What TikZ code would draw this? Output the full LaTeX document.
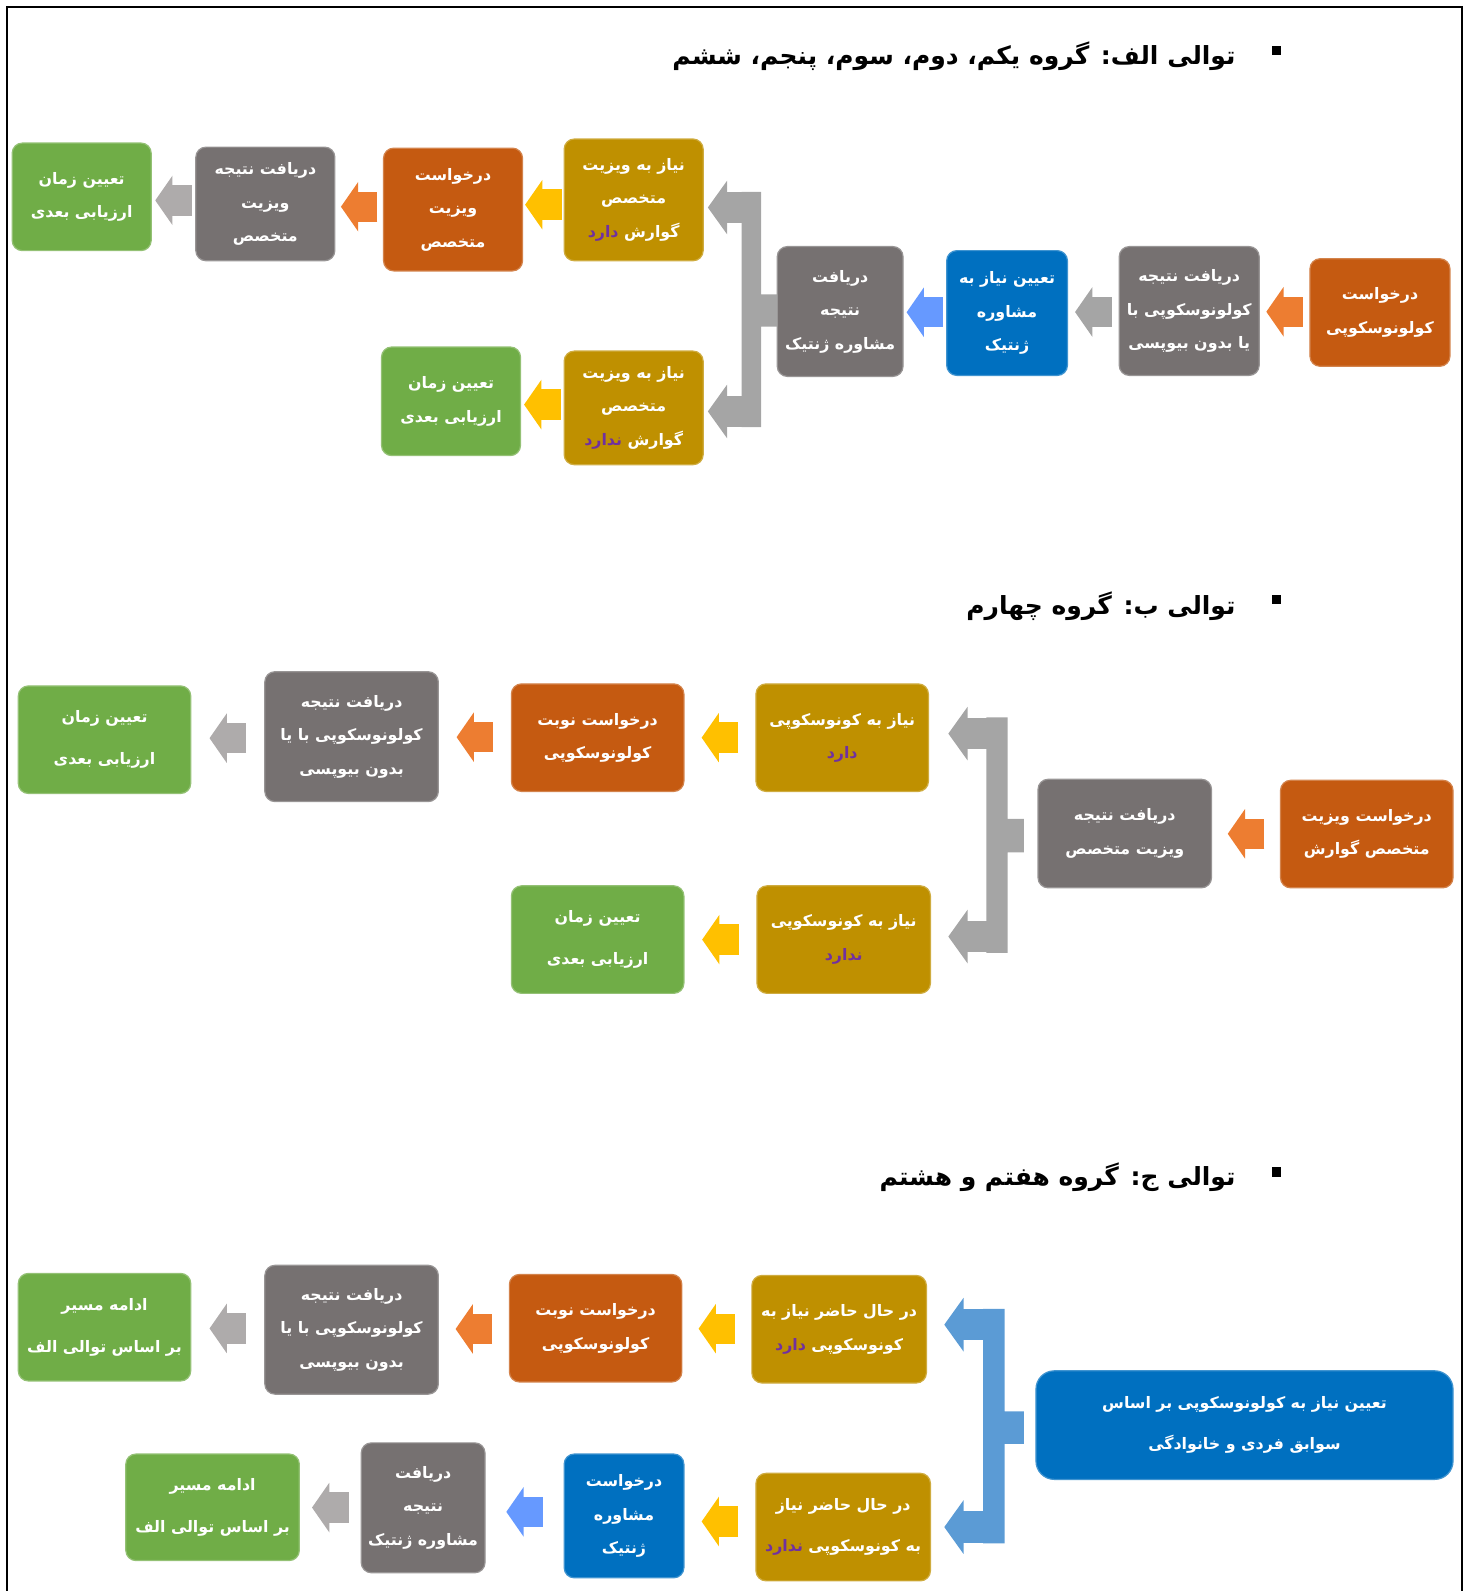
\documentclass[tikz,border=0pt]{standalone}
\usepackage{fontspec}
\usetikzlibrary{calc,arrows.meta}
\TeXXeTstate=1
\newfontfamily\fafont[Script=Arabic]{DejaVu Sans}
\newcommand\fa[1]{\beginR #1\endR}
\newcommand\hasit[1]{\textcolor{cpurple}{\fa{#1}}}
\definecolor{cgreen}{HTML}{70AD47}
\definecolor{cgray}{HTML}{767171}
\definecolor{corange}{HTML}{C55A11}
\definecolor{cgold}{HTML}{BF9000}
\definecolor{cblue}{HTML}{0070C0}
\definecolor{cpurple}{HTML}{7030A0}
\definecolor{aorange}{HTML}{ED7D31}
\definecolor{ayellow}{HTML}{FFC000}
\definecolor{agray}{HTML}{AEABAB}
\definecolor{ablue}{HTML}{6699FF}
\definecolor{brgray}{HTML}{A5A5A5}
\definecolor{brblue}{HTML}{5B9BD5}
\tikzset{
  stepbox/.style={fill=#1, draw=#1!75!white, line width=0.6pt, rounded corners=5pt,
    text=white, align=center, inner sep=0pt,
    font=\fafont\bfseries\fontsize{7.8}{16.5}\selectfont},
  loose/.style={font=\fafont\bfseries\fontsize{7.8}{20.5}\selectfont},
  sz/.style 2 args={minimum width=#1*0.5pt, minimum height=#2*0.5pt},
  flow/.style={draw=#1, line width=15pt, -{Triangle[length=8.5pt,width=24pt]}},
  fork/.style={draw=#1, line width=15.5pt, -{Triangle[length=9.5pt,width=26pt]}},
  grouptitle/.style={font=\fafont\bfseries\fontsize{12.3}{16}\selectfont, inner sep=0pt, anchor=east},
  bullet/.style={fill=black, inner sep=0pt, minimum size=4.5pt},
}
\begin{document}
\begin{tikzpicture}[x=0.5pt,y=-0.5pt]
    \useasboundingbox (0,0) rectangle (1451,1568);
    \draw [line width=1pt] (7,1568) -- (7,7) -- (1441,7) -- (1441,1568);
    % ------ توالی الف -----------------
    \node [bullet] (pA) at (1258,50) {};
    \node [grouptitle] (tA) at (1218,55) {\fa{توالی الف: گروه یکم، دوم، سوم، پنجم، ششم}};
    \node [stepbox=corange, sz={138}{106}] (a10) at (1360,308) {\fa{درخواست}\\\fa{کولونوسکوپی}};
    \node [stepbox=cgray, sz={138}{127}] (a9) at (1172,306.5) {\fa{دریافت نتیجه}\\\fa{کولونوسکوپی با}\\\fa{یا بدون بیوپسی}};
    \node [stepbox=cblue, sz={119}{123}] (a8) at (992.5,308.5) {\fa{تعیین نیاز به}\\\fa{مشاوره}\\\fa{ژنتیک}};
    \node [stepbox=cgray, sz={124}{128}] (a7) at (828,307) {\fa{دریافت}\\\fa{نتیجه}\\\fa{مشاوره ژنتیک}};
    \node [stepbox=cgold, sz={137}{120}] (a4) at (624.5,197) {\fa{نیاز به ویزیت}\\\fa{متخصص}\\\hasit{دارد}\ \fa{گوارش}};
    \node [stepbox=cgold, sz={137}{112}] (a5) at (624.5,402) {\fa{نیاز به ویزیت}\\\fa{متخصص}\\\hasit{ندارد}\ \fa{گوارش}};
    \node [stepbox=corange, sz={137}{121}] (a3) at (446.5,206.5) {\fa{درخواست}\\\fa{ویزیت}\\\fa{متخصص}};
    \node [stepbox=cgray, sz={137}{112}] (a2) at (261.5,201) {\fa{دریافت نتیجه}\\\fa{ویزیت}\\\fa{متخصص}};
    \node [stepbox=cgreen, sz={137}{106}] (a1) at (80.5,194) {\fa{تعیین زمان}\\\fa{ارزیابی بعدی}};
    \node [stepbox=cgreen, sz={137}{107}] (a6) at (444.5,395.5) {\fa{تعیین زمان}\\\fa{ارزیابی بعدی}};
    \draw [flow=aorange] ($(a10.west)!.5!(a9.east)+(18,0)$) -- ($(a10.west)!.5!(a9.east)-(18,0)$);
    \draw [flow=brgray] ($(a9.west)!.5!(a8.east)+(18,0)$) -- ($(a9.west)!.5!(a8.east)-(18,0)$);
    \draw [flow=ablue] ($(a8.west)!.5!(a7.east)+(18,0)$) -- ($(a8.west)!.5!(a7.east)-(18,0)$);
    \fill [brgray] (731,189) rectangle (750,421) (750,290) rectangle (766,322);
    \coordinate (jAt) at (740,204.5);
    \coordinate (jAb) at (740,405.5);
    \draw [fork=brgray] (jAt) -- ($(a4.east |- jAt)+(4,0)$);
    \draw [fork=brgray] (jAb) -- ($(a5.east |- jAb)+(4,0)$);
    \draw [flow=ayellow] ($(a4.west)!.5!(a3.east)+(18,0)$) -- ($(a4.west)!.5!(a3.east)-(18,0)$);
    \draw [flow=aorange] ($(a3.west)!.5!(a2.east)+(18,0)$) -- ($(a3.west)!.5!(a2.east)-(18,0)$);
    \draw [flow=agray] ($(a2.west)!.5!(a1.east)+(18,0)$) -- ($(a2.west)!.5!(a1.east)-(18,0)$);
    \draw [flow=ayellow] ($(a5.west)!.5!(a6.east)+(18,0)$) -- ($(a5.west)!.5!(a6.east)-(18,0)$);
    % ------ توالی ب -----------------
    \node [bullet] (pB) at (1258,591) {};
    \node [grouptitle] (tB) at (1218,597) {\fa{توالی ب: گروه چهارم}};
    \node [stepbox=corange, sz={170}{106}] (b1) at (1347,822) {\fa{درخواست ویزیت}\\\fa{متخصص گوارش}};
    \node [stepbox=cgray, sz={171}{107}] (b2) at (1108.5,821.5) {\fa{دریافت نتیجه}\\\fa{ویزیت متخصص}};
    \node [stepbox=cgold, sz={170}{106}] (b3) at (830,727) {\fa{نیاز به کونوسکوپی}\\\hasit{دارد}};
    \node [stepbox=cgold, sz={171}{106}] (b4) at (831.5,926) {\fa{نیاز به کونوسکوپی}\\\hasit{ندارد}};
    \node [stepbox=corange, sz={170}{106}] (b5) at (589,727) {\fa{درخواست نوبت}\\\fa{کولونوسکوپی}};
    \node [stepbox=cgreen, sz={170}{106}, loose] (b6) at (589,926) {\fa{تعیین زمان}\\\fa{ارزیابی بعدی}};
    \node [stepbox=cgray, sz={171}{128}] (b7) at (346.5,726) {\fa{دریافت نتیجه}\\\fa{کولونوسکوپی با یا}\\\fa{بدون بیوپسی}};
    \node [stepbox=cgreen, sz={170}{106}, loose] (b8) at (103,729) {\fa{تعیین زمان}\\\fa{ارزیابی بعدی}};
    \draw [flow=aorange] ($(b1.west)!.5!(b2.east)+(18,0)$) -- ($(b1.west)!.5!(b2.east)-(18,0)$);
    \fill [brgray] (972,707) rectangle (993,939) (993,807) rectangle (1009,840);
    \coordinate (jBt) at (982,723);
    \coordinate (jBb) at (982,923);
    \draw [fork=brgray] (jBt) -- ($(b3.east |- jBt)+(19,0)$);
    \draw [fork=brgray] (jBb) -- ($(b4.east |- jBb)+(17,0)$);
    \draw [flow=ayellow] ($(b3.west)!.5!(b5.east)+(18,0)$) -- ($(b3.west)!.5!(b5.east)-(18,0)$);
    \draw [flow=ayellow] ($(b4.west)!.5!(b6.east)+(18,0)$) -- ($(b4.west)!.5!(b6.east)-(18,0)$);
    \draw [flow=aorange] ($(b5.west)!.5!(b7.east)+(18,0)$) -- ($(b5.west)!.5!(b7.east)-(18,0)$);
    \draw [flow=agray] ($(b7.west)!.5!(b8.east)+(18,0)$) -- ($(b7.west)!.5!(b8.east)-(18,0)$);
    % ------ توالی ج -----------------
    \node [bullet] (pC) at (1258,1155) {};
    \node [grouptitle] (tC) at (1218,1160) {\fa{توالی ج: گروه هفتم و هشتم}};
    \node [stepbox=cblue, sz={411}{107}, rounded corners=9pt, loose] (c1) at (1226.5,1404.5) {\fa{تعیین نیاز به کولونوسکوپی بر اساس}\\\fa{سوابق فردی و خانوادگی}};
    \node [stepbox=cgold, sz={172}{106}] (c2) at (827,1310) {\fa{در حال حاضر نیاز به}\\\hasit{دارد}\ \fa{کونوسکوپی}};
    \node [stepbox=cgold, sz={172}{106}, loose] (c3) at (831,1505) {\fa{در حال حاضر نیاز}\\\hasit{ندارد}\ \fa{به کونوسکوپی}};
    \node [stepbox=corange, sz={170}{106}] (c4) at (587,1309) {\fa{درخواست نوبت}\\\fa{کولونوسکوپی}};
    \node [stepbox=cgray, sz={171}{127}] (c5) at (346.5,1310.5) {\fa{دریافت نتیجه}\\\fa{کولونوسکوپی با یا}\\\fa{بدون بیوپسی}};
    \node [stepbox=cgreen, sz={170}{106}, loose] (c6) at (103,1308) {\fa{ادامه مسیر}\\\fa{بر اساس توالی الف}};
    \node [stepbox=cblue, sz={118}{122}] (c7) at (615,1494) {\fa{درخواست}\\\fa{مشاوره}\\\fa{ژنتیک}};
    \node [stepbox=cgray, sz={122}{128}] (c8) at (417,1486) {\fa{دریافت}\\\fa{نتیجه}\\\fa{مشاوره ژنتیک}};
    \node [stepbox=cgreen, sz={171}{105}, loose] (c9) at (209.5,1485.5) {\fa{ادامه مسیر}\\\fa{بر اساس توالی الف}};
    \fill [brblue] (969,1290) rectangle (990,1521) (990,1391) rectangle (1009,1423);
    \coordinate (jCt) at (979,1305.5);
    \coordinate (jCb) at (979,1505);
    \draw [fork=brblue] (jCt) -- ($(c2.east |- jCt)+(17,0)$);
    \draw [fork=brblue] (jCb) -- ($(c3.east |- jCb)+(13,0)$);
    \draw [flow=ayellow] ($(c2.west)!.5!(c4.east)+(18,0)$) -- ($(c2.west)!.5!(c4.east)-(18,0)$);
    \draw [flow=aorange] ($(c4.west)!.5!(c5.east)+(18,0)$) -- ($(c4.west)!.5!(c5.east)-(18,0)$);
    \draw [flow=agray] ($(c5.west)!.5!(c6.east)+(18,0)$) -- ($(c5.west)!.5!(c6.east)-(18,0)$);
    \draw [flow=ayellow] ($(c3.west)!.5!(c7.east)+(18,0)$) -- ($(c3.west)!.5!(c7.east)-(18,0)$);
    \draw [flow=ablue] ($(c7.west)!.5!(c8.east)+(18,0)$) -- ($(c7.west)!.5!(c8.east)-(18,0)$);
    \draw [flow=agray] ($(c8.west)!.5!(c9.east)+(18,0)$) -- ($(c8.west)!.5!(c9.east)-(18,0)$);
\end{tikzpicture}
\end{document}
